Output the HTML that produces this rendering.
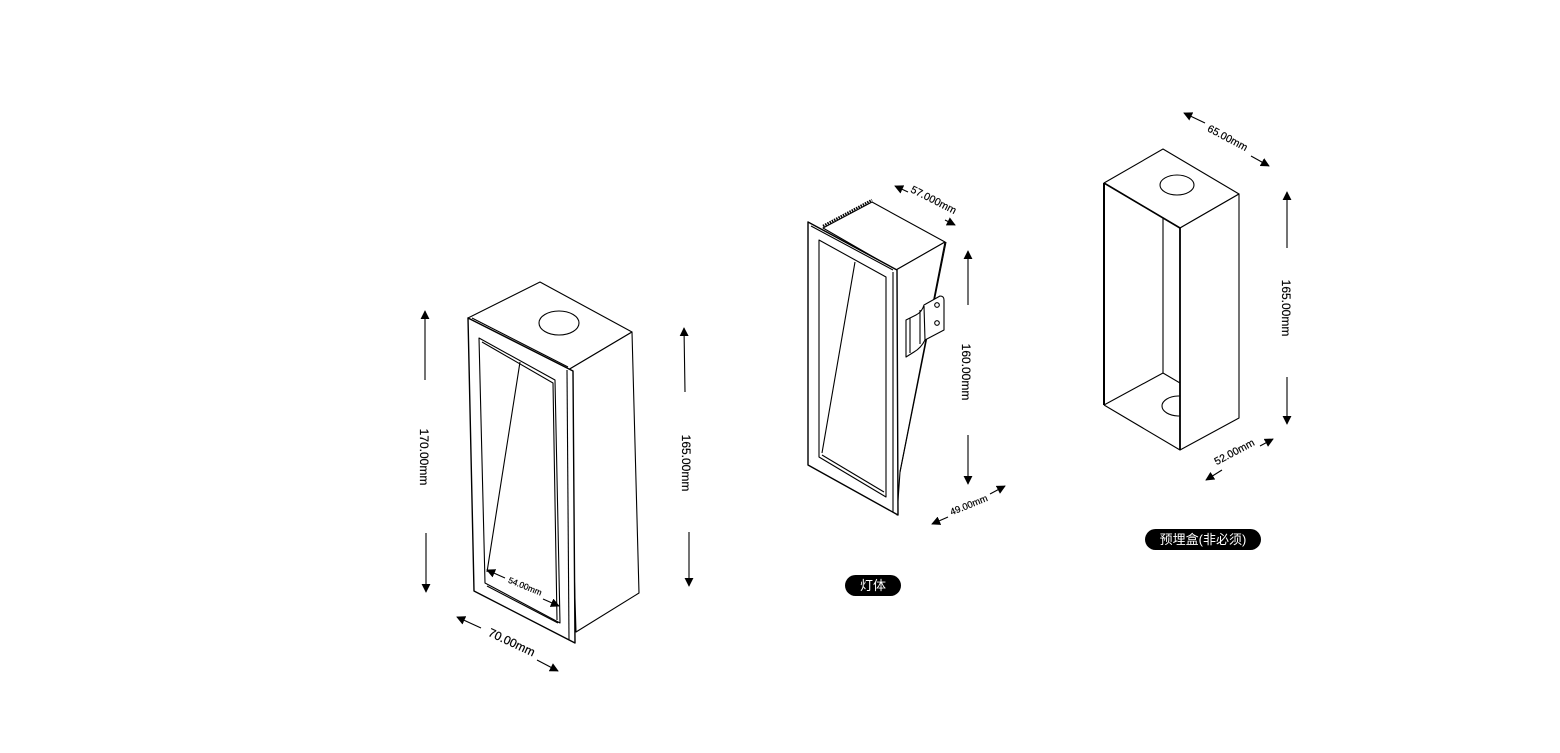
<!DOCTYPE html>
<html><head><meta charset="utf-8"><style>
html,body{margin:0;padding:0;background:#fff;}
svg{display:block;}
text{font-family:"Liberation Sans","Noto Sans CJK SC",sans-serif;fill:#000;}
</style></head><body>
<svg width="1560" height="753" viewBox="0 0 1560 753" xmlns="http://www.w3.org/2000/svg">
<defs>
<marker id="ah" viewBox="0 0 10 10" refX="9" refY="5" markerWidth="9" markerHeight="9" markerUnits="userSpaceOnUse" orient="auto"><path d="M0,0 L10,5 L0,10 z" fill="#000"/></marker>
</defs>
<g fill="none" stroke="#000" stroke-width="1.1" stroke-linejoin="round">
<!-- Box 1 -->
<polygon points="468,318 540,282 632,332 568,370" fill="#fff"/>
<polygon points="568,370 632,332 639,593 576,632" fill="#fff"/>
<ellipse cx="559" cy="323" rx="20" ry="12"/>
<polygon points="468,318 573,371 575,643 474,591" fill="#fff" stroke-width="1.4"/>
<line x1="472" y1="318" x2="568" y2="367"/>
<line x1="567" y1="370" x2="569" y2="640"/>
<polygon points="479,338 555,380 560,623 485,583"/>
<polyline points="482,342 553,383 557,620"/>
<line x1="487" y1="586" x2="558" y2="623"/>
<line x1="520" y1="362" x2="487" y2="572"/>
<!-- Box 2 -->
<polygon points="823,228 872,202 945,242 896,270" fill="#fff"/>
<polyline points="823,226 872,200" stroke-width="2.5" stroke-dasharray="1.5 1"/>
<polygon points="896,270 945,242 900,472 897,515" fill="#fff"/>
<line x1="946" y1="242" x2="900" y2="472"/>
<polygon points="808,222 897,270 898,515 808,465" fill="#fff" stroke-width="1.4"/>
<line x1="811" y1="226" x2="893" y2="270"/>
<line x1="893" y1="272" x2="893" y2="512"/>
<polygon points="819,240 886,277 886,497 819,457"/>
<line x1="822" y1="455" x2="884" y2="492"/>
<line x1="855" y1="262" x2="822" y2="453"/>
<!-- bracket -->
<path d="M906,320 L916,315 Q922,312 924,305 L940,296 Q944,296 944,300 L944,330 L925,340 Q921,348 914,352 L906,357 Z" fill="#fff"/>
<line x1="924" y1="306" x2="925" y2="340"/>
<line x1="920" y1="310" x2="920" y2="344"/>
<line x1="910" y1="318" x2="910" y2="353"/>
<circle cx="937" cy="305" r="2.3"/><circle cx="937" cy="323" r="2.3"/>
<!-- Box 3 -->
<polygon points="1104,183 1163,149 1239,194 1180,228" fill="#fff"/>
<ellipse cx="1177" cy="185" rx="17" ry="10"/>
<polygon points="1180,228 1239,194 1239,418 1180,450" fill="#fff"/>
<line x1="1104" y1="183" x2="1104" y2="405" stroke-width="2"/>
<line x1="1104" y1="183" x2="1180" y2="228" stroke-width="1.6"/>
<line x1="1180" y1="228" x2="1180" y2="450" stroke-width="1.8"/>
<line x1="1104" y1="405" x2="1180" y2="450"/>
<line x1="1104" y1="405" x2="1163" y2="373"/>
<line x1="1163" y1="218" x2="1163" y2="373"/>
<line x1="1163" y1="373" x2="1180" y2="383"/>
<path d="M1180,396 L1178,396 A17,10 0 0 0 1162,406 A17,10 0 0 0 1178,416 L1180,416"/>
</g>
<!-- dimension arrows -->
<g stroke="#000" stroke-width="1.1" marker-end="url(#ah)">
<line x1="425" y1="380" x2="425" y2="311"/>
<line x1="426" y1="533" x2="426" y2="592"/>
<line x1="685" y1="392" x2="684" y2="328"/>
<line x1="689" y1="532" x2="689" y2="586"/>
<line x1="481" y1="628" x2="457" y2="617"/>
<line x1="537" y1="660" x2="558" y2="671"/>
<line x1="505" y1="578" x2="487" y2="570"/>
<line x1="543" y1="599" x2="559" y2="606"/>
<line x1="908" y1="192" x2="895" y2="186"/>
<line x1="945" y1="220" x2="955" y2="225"/>
<line x1="968" y1="305" x2="968" y2="251"/>
<line x1="968" y1="435" x2="968" y2="484"/>
<line x1="948" y1="517" x2="932" y2="524"/>
<line x1="990" y1="494" x2="1005" y2="486"/>
<line x1="1205" y1="123" x2="1184" y2="113"/>
<line x1="1251" y1="156" x2="1269" y2="166"/>
<line x1="1287" y1="248" x2="1287" y2="192"/>
<line x1="1287" y1="377" x2="1287" y2="424"/>
<line x1="1222" y1="470" x2="1206" y2="480"/>
<line x1="1260" y1="446" x2="1273" y2="439"/>
</g>
<g font-size="12" style="stroke:#000;stroke-width:0.2">
<text transform="translate(420,457) rotate(90)" text-anchor="middle">170.00mm</text>
<text transform="translate(682,463) rotate(90)" text-anchor="middle">165.00mm</text>
<text transform="translate(510,646) rotate(25)" text-anchor="middle">70.00mm</text>
<text transform="translate(524,589) rotate(22)" text-anchor="middle" font-size="8.5">54.00mm</text>
<text transform="translate(932,203) rotate(27)" text-anchor="middle" font-size="10.5">57.000mm</text>
<text transform="translate(962,372) rotate(90)" text-anchor="middle">160.00mm</text>
<text transform="translate(970,508) rotate(-22)" text-anchor="middle" font-size="9.5">49.00mm</text>
<text transform="translate(1226,141) rotate(28)" text-anchor="middle" font-size="10.5">65.00mm</text>
<text transform="translate(1282,308) rotate(90)" text-anchor="middle">165.00mm</text>
<text transform="translate(1236,455) rotate(-28)" text-anchor="middle" font-size="10.5">52.00mm</text>
</g>
<rect x="845" y="575" width="56" height="21" rx="10.5" fill="#000"/>
<text x="873" y="590" text-anchor="middle" font-size="13" style="fill:#fff">灯体</text>
<rect x="1145" y="529" width="116" height="21" rx="10.5" fill="#000"/>
<text x="1203" y="544" text-anchor="middle" font-size="13" style="fill:#fff">预埋盒(非必须)</text>
</svg>
</body></html>
